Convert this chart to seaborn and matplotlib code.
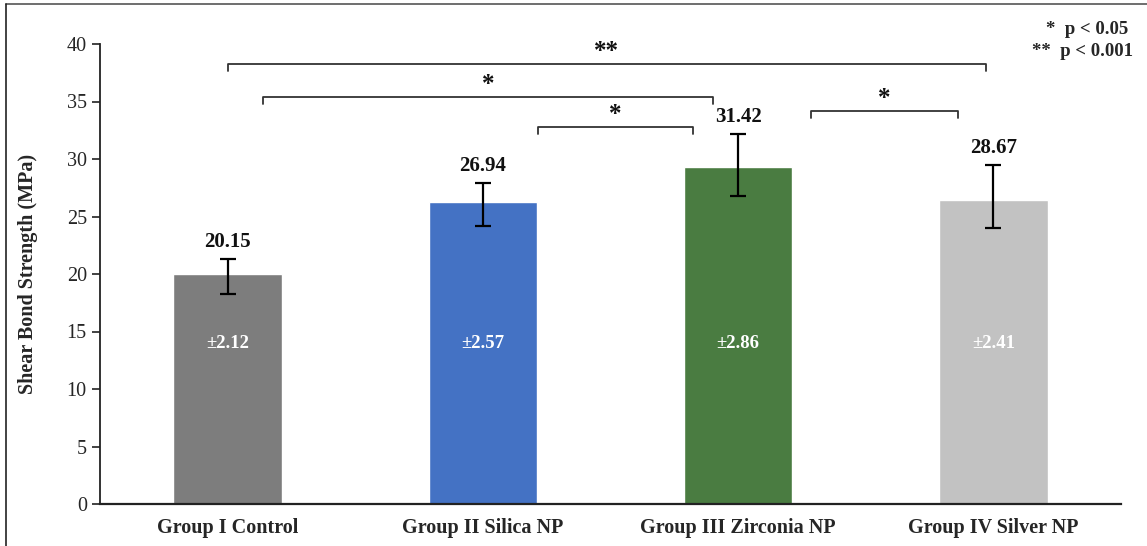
import numpy as np
import pandas as pd
import matplotlib
matplotlib.use('Agg')
import matplotlib.pyplot as plt
import seaborn as sns

sns.set_style('white')
plt.rcParams['font.family'] = ['Liberation Serif', 'DejaVu Serif']

# Daten
groups = ['Group I Control', 'Group II Silica NP', 'Group III Zirconia NP', 'Group IV Silver NP']
bar_heights = [20.0, 26.3, 29.3, 26.45]
err_low = [1.75, 2.1, 2.55, 2.45]
err_high = [1.3, 1.6, 2.9, 3.05]
mean_labels = ['20.15', '26.94', '31.42', '28.67']
sd_labels = ['±2.12', '±2.57', '±2.86', '±2.41']
colors = ['#7d7d7d', '#4472c4', '#4a7c41', '#c2c2c2']

# Signifikanz-Klammern: (von, bis, Höhe, Text)
brackets = [
    (0.0, 2.97, 38.25, '**'),
    (0.14, 1.9, 35.4, '*'),
    (1.215, 1.825, 32.8, '*'),
    (2.285, 2.86, 34.2, '*'),
]

df = pd.DataFrame({'group': groups, 'value': bar_heights})

fig = plt.figure(figsize=(11.47, 5.46), dpi=100)
ax = fig.add_axes([100 / 1147, 1 - 504 / 546, 1021 / 1147, 460 / 546])

sns.barplot(data=df, x='group', y='value', hue='group', palette=colors,
            width=0.425, saturation=1, legend=False, ax=ax)

x = np.arange(len(groups))
ax.errorbar(x, bar_heights, yerr=[err_low, err_high], fmt='none',
            ecolor='black', elinewidth=1.6, capsize=6, capthick=1.6)

for i in range(len(groups)):
    top = bar_heights[i] + err_high[i]
    ax.text(x[i], top + 0.6, mean_labels[i], ha='center', va='bottom',
            fontsize=15, fontweight='bold', color='#111111')
    ax.text(x[i], 14.0, sd_labels[i], ha='center', va='center',
            fontsize=13.5, fontweight='bold', color='white')

for x0, x1, h, txt in brackets:
    ax.plot([x0, x0, x1, x1], [h - 0.6, h, h, h - 0.6], color='#333333',
            lw=1.3, clip_on=False)
    ax.text((x0 + x1) / 2, h + 0.1, txt, ha='center', va='bottom',
            fontsize=18, fontweight='bold', color='#111111')

ax.set_xlim(-0.5, 3.5)
ax.set_ylim(0, 40)
ax.set_yticks(range(0, 45, 5))
ax.set_xlabel('')
ax.set_ylabel('Shear Bond Strength (MPa)', fontsize=14.5, fontweight='bold')
ax.yaxis.set_label_coords(-0.061, 0.5)
ax.tick_params(axis='y', labelsize=14.5, length=6, width=1.2, direction='out', left=True, color='#222222')
ax.tick_params(axis='x', labelsize=14.5, length=0, pad=10)
for lab in ax.get_xticklabels():
    lab.set_fontweight('bold')

sns.despine(ax=ax)
ax.spines['left'].set_color('#222222')
ax.spines['bottom'].set_color('#222222')
ax.spines['left'].set_linewidth(1.3)
ax.spines['bottom'].set_linewidth(1.6)

fig.text(1128 / 1147, 1 - 29 / 546, '*  p < 0.05', ha='right', va='center',
         fontsize=13.5, fontweight='bold')
fig.text(1133 / 1147, 1 - 52 / 546, '**  p < 0.001', ha='right', va='center',
         fontsize=13.5, fontweight='bold')

# Rahmen oben und links
fig.add_artist(plt.Line2D([6 / 1147, 1], [1 - 4 / 546, 1 - 4 / 546], color='#555555', lw=1.2))
fig.add_artist(plt.Line2D([6 / 1147, 6 / 1147], [0, 1 - 4 / 546], color='#222222', lw=1.2))

fig.savefig('out.png', dpi=100)
